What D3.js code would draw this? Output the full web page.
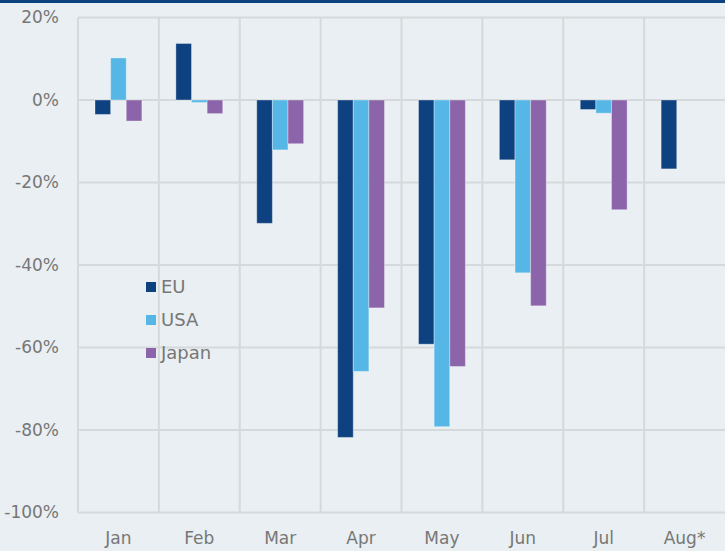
<!DOCTYPE html>
<html><head><meta charset="utf-8">
<script src="https://cdn.jsdelivr.net/npm/d3@7"></script>
<style>
html,body{margin:0;padding:0;background:#e9eff2;}
svg{display:block;}
text{font-family:"DejaVu Sans",sans-serif;}
</style></head>
<body>
<svg id="chart" width="725" height="551"></svg>
<script>
const months = ["Jan","Feb","Mar","Apr","May","Jun","Jul","Aug*"];
const seriesNames = ["EU","USA","Japan"];
const euValues    = [-3.5, 13.7, -29.9, -81.8, -59.2, -14.5, -2.3, -16.7];
const usaValues   = [10.2, -0.6, -12.1, -65.8, -79.2, -41.9, -3.2, null];
const japanValues = [-5.1, -3.3, -10.6, -50.4, -64.6, -49.9, -26.6, null];
const yTicks = [20, 0, -20, -40, -60, -80, -100];
const colors = ["#0e4180", "#56b7e6", "#8b64aa"];

const svg = d3.select("#chart");
const W = 725, H = 551;
const m = {left: 78, right: 0, top: 17.5, bottom: 38.5};

svg.append("rect").attr("x",0).attr("y",0).attr("width",W).attr("height",H).attr("fill","#e9eff2");
svg.append("rect").attr("x",0).attr("y",0).attr("width",W).attr("height",3).attr("fill","#0e4180");

const x0 = d3.scaleBand().domain(months).range([m.left, W - m.right]).padding(0);
const x1 = d3.scaleBand().domain(seriesNames).range([17, x0.bandwidth() - 17]).padding(0);
const y = d3.scaleLinear().domain([-100, 20]).range([H - m.bottom, m.top]);

const grid = svg.append("g");
// horizontal gridlines
grid.selectAll("line.h").data(yTicks).join("line")
  .attr("x1", m.left).attr("x2", W)
  .attr("y1", d => y(d)).attr("y2", d => y(d))
  .attr("stroke", "#d6d9db").attr("stroke-width", 2);
// vertical gridlines at band edges
const edges = months.map(d => x0(d));
grid.selectAll("line.v").data(edges).join("line")
  .attr("x1", d => d).attr("x2", d => d)
  .attr("y1", y(20)).attr("y2", y(-100))
  .attr("stroke", "#d6d9db").attr("stroke-width", 2);

// y labels
svg.append("g").selectAll("text").data(yTicks).join("text")
  .attr("x", 59).attr("y", d => y(d)).attr("dy", "0.35em")
  .attr("text-anchor", "end").attr("font-size", 17).attr("fill", "#777")
  .text(d => d + "%");

// x labels
svg.append("g").selectAll("text").data(months).join("text")
  .attr("x", d => x0(d) + x0.bandwidth()/2).attr("y", 538).attr("dy", "0.35em")
  .attr("text-anchor", "middle").attr("font-size", 17).attr("fill", "#777")
  .text(d => d);

// bars
const allSeries = [euValues, usaValues, japanValues];
const rows = [];
months.forEach((mo, i) => {
  seriesNames.forEach((s, j) => {
    const v = allSeries[j][i];
    if (v !== null) rows.push({mo, s, v, c: colors[j]});
  });
});
svg.append("g").selectAll("rect").data(rows).join("rect")
  .attr("x", d => x0(d.mo) + x1(d.s))
  .attr("width", x1.bandwidth())
  .attr("y", d => Math.min(y(0), y(d.v)))
  .attr("height", d => Math.abs(y(d.v) - y(0)))
  .attr("fill", d => d.c)
  .attr("stroke", "rgba(255,255,255,0.35)").attr("stroke-width", 1);

// legend
const lg = svg.append("g");
seriesNames.forEach((s, j) => {
  const yy = 287 + j * 33;
  lg.append("rect").attr("x", 146).attr("y", yy - 5).attr("width", 10).attr("height", 10).attr("fill", colors[j]);
  lg.append("text").attr("x", 161).attr("y", yy).attr("dy", "0.35em")
    .attr("font-size", 18).attr("fill", "#777").text(s);
});
</script>
</body></html>
